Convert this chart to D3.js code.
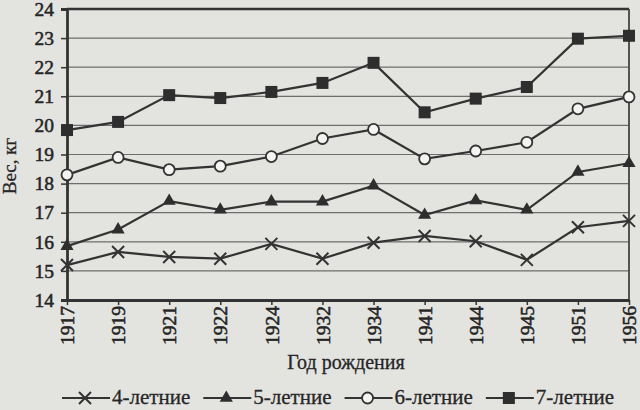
<!DOCTYPE html>
<html>
<head>
<meta charset="utf-8">
<script src="https://cdn.jsdelivr.net/npm/d3@7"></script>
<style>
  html, body { margin: 0; padding: 0; background: #e3e3e0; }
  svg { display: block; }
  text { font-family: "Liberation Serif", "Times New Roman", serif; fill: #262626; }
</style>
</head>
<body>
<div id="chart"></div>
<script>
// годы рождения
var years = ["1917", "1919", "1921", "1922", "1924", "1932", "1934", "1941", "1944", "1945", "1951", "1956"];
// средний вес, кг
var age4 = [15.2, 15.65, 15.48, 15.42, 15.93, 15.42, 15.97, 16.2, 16.02, 15.38, 16.5, 16.72];
var age5 = [15.85, 16.42, 17.4, 17.1, 17.38, 17.38, 17.93, 16.92, 17.42, 17.1, 18.4, 18.7];
var age6 = [18.3, 18.9, 18.48, 18.6, 18.93, 19.55, 19.86, 18.85, 19.12, 19.42, 20.57, 20.98];
var age7 = [19.84, 20.12, 21.04, 20.94, 21.15, 21.46, 22.15, 20.45, 20.92, 21.32, 22.98, 23.08];
var seriesNames = ["4-летние", "5-летние", "6-летние", "7-летние"];
var yTicks = [14, 15, 16, 17, 18, 19, 20, 21, 22, 23, 24];

var width = 640, height = 410;
var margin = {top: 9, right: 11, bottom: 110, left: 67};
var plotW = width - margin.left - margin.right,
    plotH = height - margin.top - margin.bottom;

var svg = d3.select("#chart").append("svg")
    .attr("width", width)
    .attr("height", height);

var x = d3.scalePoint().domain(years).range([0, plotW]).padding(0);
var y = d3.scaleLinear().domain([14, 24]).range([plotH, 0]);

var g = svg.append("g").attr("transform", "translate(" + margin.left + "," + margin.top + ")");

// сетка
g.selectAll("line.grid")
    .data(yTicks.slice(1, -1))
    .enter().append("line")
    .attr("class", "grid")
    .attr("x1", 0).attr("x2", plotW)
    .attr("y1", d => y(d)).attr("y2", d => y(d))
    .attr("stroke", "#6e6e6e")
    .attr("stroke-width", 1.2);

// рамка
g.append("line").attr("x1", 0).attr("x2", plotW).attr("y1", 0).attr("y2", 0)
    .attr("stroke", "#333").attr("stroke-width", 2.5);
g.append("line").attr("x1", plotW).attr("x2", plotW).attr("y1", 0).attr("y2", plotH)
    .attr("stroke", "#444").attr("stroke-width", 1.8);

// оси
var yAxis = g.append("g")
    .call(d3.axisLeft(y).tickValues(yTicks).tickSize(6).tickPadding(7).tickFormat(d3.format("d")));
var xAxis = g.append("g")
    .attr("transform", "translate(0," + plotH + ")")
    .call(d3.axisBottom(x).tickSize(5).tickSizeOuter(0));

[yAxis, xAxis].forEach(function (ax) {
    ax.select(".domain").attr("stroke", "#333").attr("stroke-width", 2.8);
    ax.selectAll(".tick line").attr("stroke", "#333").attr("stroke-width", 1.5);
    ax.selectAll("text")
        .attr("fill", "#222")
        .attr("stroke", "#222")
        .attr("stroke-width", 0.5)
        .style("font-family", "Liberation Serif")
        .style("font-size", "19.5px");
});

xAxis.selectAll(".tick text")
    .attr("transform", "rotate(-90)")
    .attr("text-anchor", "end")
    .attr("x", -6)
    .attr("y", 0)
    .attr("dy", "0.34em");

// подписи осей
svg.append("text")
    .attr("x", 346).attr("y", 369)
    .attr("text-anchor", "middle")
    .attr("stroke", "#262626").attr("stroke-width", 0.3)
    .style("font-size", "20px")
    .text("Год рождения");

svg.append("text")
    .attr("transform", "translate(16,166) rotate(-90)")
    .attr("text-anchor", "middle")
    .attr("stroke", "#262626").attr("stroke-width", 0.3)
    .style("font-size", "19px")
    .text("Вес, кг");

// маркеры
function drawMarker(sel, type) {
    if (type === 0) {
        sel.append("path").attr("d", "M-6,-6L6,6M-6,6L6,-6")
            .attr("stroke", "#333").attr("stroke-width", 2).attr("fill", "none");
    } else if (type === 1) {
        sel.append("path").attr("d", d3.symbol(d3.symbolTriangle, 75)())
            .attr("fill", "#2e2e2e");
    } else if (type === 2) {
        sel.append("circle").attr("r", 5.5)
            .attr("fill", "#f4f4f2").attr("stroke", "#333").attr("stroke-width", 1.8);
    } else {
        sel.append("rect").attr("x", -6).attr("y", -6).attr("width", 12).attr("height", 12)
            .attr("fill", "#2e2e2e");
    }
}

var allSeries = [age4, age5, age6, age7];
var line = d3.line().x((d, i) => x(years[i])).y(d => y(d));

allSeries.forEach(function (vals, k) {
    g.append("path")
        .datum(vals)
        .attr("d", line)
        .attr("fill", "none")
        .attr("stroke", "#333")
        .attr("stroke-width", 2.2);
    g.selectAll("g.m" + k)
        .data(vals)
        .enter().append("g")
        .attr("class", "m" + k)
        .attr("transform", (d, i) => "translate(" + x(years[i]) + "," + y(d) + ")")
        .each(function () { drawMarker(d3.select(this), k); });
});

// легенда
var legend = svg.append("g").attr("transform", "translate(0,398)");
var lx = 62;
seriesNames.forEach(function (name, k) {
    var item = legend.append("g").attr("transform", "translate(" + lx + ",0)");
    item.append("line").attr("x1", 0).attr("x2", 48).attr("y1", 0).attr("y2", 0)
        .attr("stroke", "#333").attr("stroke-width", 2);
    var m = item.append("g").attr("transform", "translate(23,0)");
    drawMarker(m, k);
    var t = item.append("text").attr("x", 50).attr("y", 6)
        .attr("stroke", "#262626").attr("stroke-width", 0.3)
        .style("font-size", "21px")
        .text(name);
    lx += 50 + t.node().getComputedTextLength() + 13;
});
</script>
</body>
</html>
